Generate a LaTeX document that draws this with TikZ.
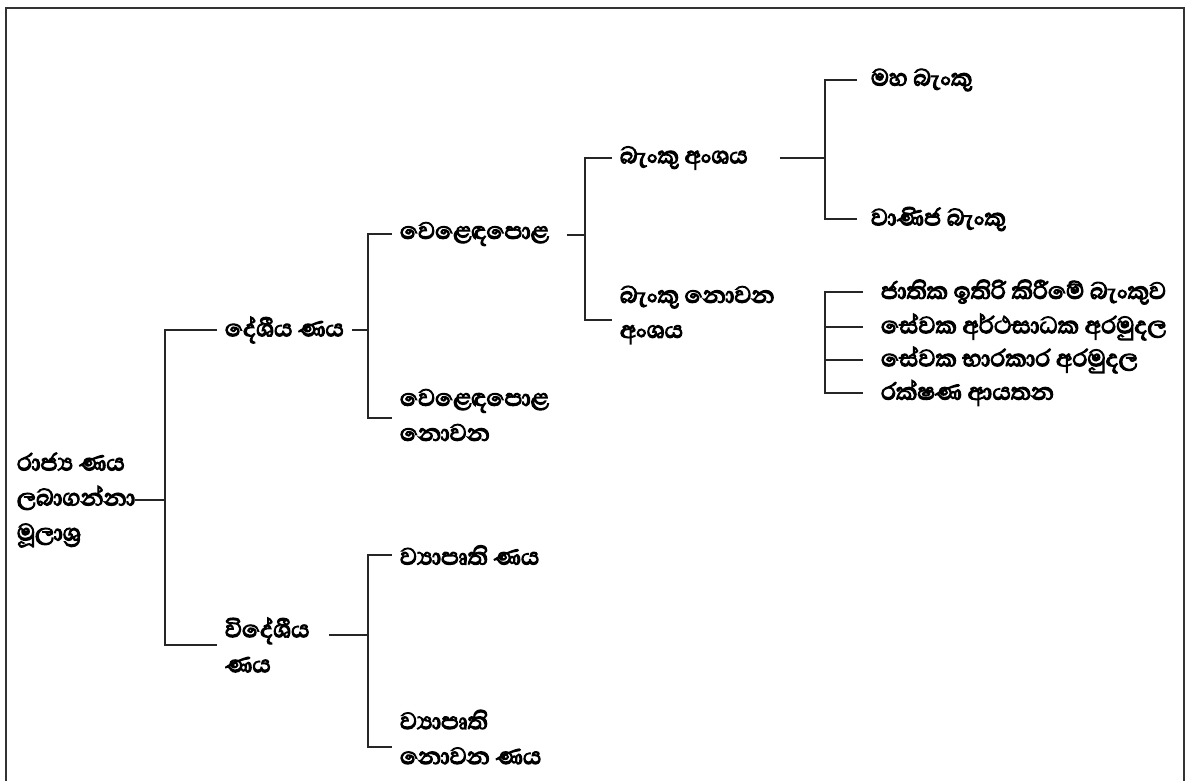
\documentclass[tikz,border=0pt]{standalone}
\usepackage{fontspec}
\newfontfamily\sinfont[Script=Sinhala,FakeBold=4]{Abhaya Libre}
\usepackage{tikz}
\usetikzlibrary{positioning}

\begin{document}
\begin{tikzpicture}[
        x=0.5pt, y=-0.5pt,
        item/.style={anchor=west, inner sep=0pt, outer sep=4pt, align=left,
          font=\sinfont\fontsize{15}{17.5}\selectfont},
        link/.style={line width=1pt, draw=black!85},
        ]
        \useasboundingbox (0,0) rectangle (1189,781);
        \draw[line width=1.25pt, black!80] (6,790) -- (6,8) -- (1184,8) -- (1184,790);

        \node[item, outer sep=0pt] (d_root)   at (17,500)  {රාජ්‍ය ණය\\ලබාගන්නා\\මූලාශ්‍ර};
        \node[item] (d_loc)     at (217,330) {දේශීය ණය};
        \node[item] (d_for)     at (217,645) {විදේශීය\\ණය};
        \node[item] (m_mkt)     at (392,234) {වෙළෙඳපොළ};
        \node[item] (m_nonmkt)  at (392,415) {වෙළෙඳපොළ\\නොවන};
        \node[item] (p_proj)    at (392,555) {ව්‍යාපෘති ණය};
        \node[item] (p_nonproj) at (392,737) {ව්‍යාපෘති\\නොවන ණය};
        \node[item] (s_bank)    at (612,158) {බැංකු අංශය};
        \node[item] (s_nonbank) at (612,315) {බැංකු නොවන\\අංශය};
        \node[item, outer sep=7pt] (b_cb)   at (857,80)  {මහ බැංකු};
        \node[item, outer sep=7pt] (b_comm) at (857,219) {වාණිජ බැංකු};
        \node[item, outer sep=9pt] (i_nsb)  at (863,292) {ජාතික ඉතිරි කිරීමේ බැංකුව};
        \node[item, outer sep=9pt] (i_epf)  at (863,327) {සේවක අර්ථසාධක අරමුදල};
        \node[item, outer sep=9pt] (i_etf)  at (863,360) {සේවක භාරකාර අරමුදල};
        \node[item, outer sep=9pt] (i_ins)  at (863,393) {රක්ෂණ ආයතන};

        \coordinate (j_root) at (165,500);
        \coordinate (j_loc)  at (368,330);
        \coordinate (j_for)  at (368,635);
        \coordinate (j_mkt)  at (585,235);
        \coordinate (j_bank) at (825,158);
        \coordinate (j_inst) at (825,292);

        \draw[link] (d_root.east) -- (j_root);
        \draw[link] (d_loc.west) -| (j_root) |- (d_for.west);
        \draw[link] (d_loc.east) -- (j_loc);
        \draw[link] (m_mkt.west) -| (j_loc) |- ([yshift=-1.5pt]m_nonmkt.west);
        \draw[link] ([xshift=6pt]d_for.east |- j_for) -- (j_for);
        \draw[link] (p_proj.west) -| (j_for) |- ([yshift=-5pt]p_nonproj.west);
        \draw[link] ([xshift=5pt]m_mkt.east |- j_mkt) -- (j_mkt);
        \draw[link] (s_bank.west) -| (j_mkt) |- ([yshift=-2.5pt]s_nonbank.west);
        \draw[link] ([xshift=12pt]s_bank.east) -- (j_bank);
        \draw[link] (b_cb.west) -| (j_bank) |- (b_comm.west);
        \draw[link] (i_nsb.west) -- (j_inst) |- (i_ins.west);
        \draw[link] (i_epf.west) -- (i_epf.west -| j_inst);
        \draw[link] (i_etf.west) -- (i_etf.west -| j_inst);
      \end{tikzpicture}
\end{document}
